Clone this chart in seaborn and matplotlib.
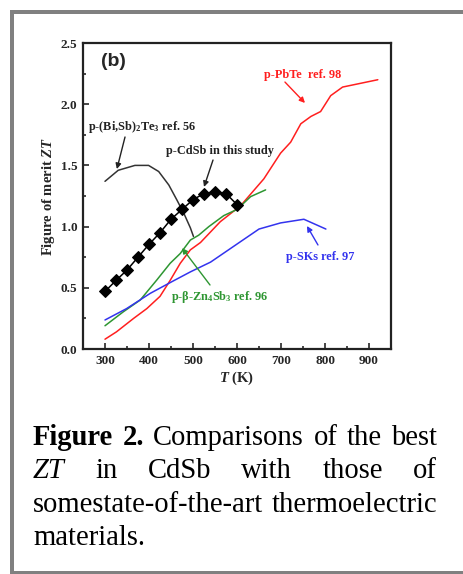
import matplotlib
matplotlib.use("Agg")
import matplotlib.pyplot as plt
import seaborn as sns
import pandas as pd
from matplotlib.ticker import MultipleLocator
from matplotlib.patches import Rectangle

# ZT vs temperature
cdsb_T = [300, 325, 350, 375, 400, 425, 450, 475, 500, 525, 550, 575, 600]
cdsb_zt = [0.47, 0.56, 0.645, 0.75, 0.855, 0.95, 1.06, 1.14, 1.22, 1.27, 1.285, 1.27, 1.18]

bisbte_T = [300, 330, 368, 399, 422, 445, 463, 479, 494, 501]
bisbte_zt = [1.37, 1.46, 1.50, 1.50, 1.45, 1.34, 1.22, 1.11, 0.99, 0.92]

pbte_T = [300, 326, 365, 395, 425, 448, 471, 494, 517, 562, 608, 661, 699, 722, 745, 768, 790, 813, 840, 920]
pbte_zt = [0.08, 0.14, 0.25, 0.33, 0.43, 0.56, 0.70, 0.81, 0.87, 1.04, 1.17, 1.39, 1.60, 1.69, 1.84, 1.90, 1.94, 2.07, 2.14, 2.20]

zn4sb3_T = [300, 342, 380, 418, 448, 471, 494, 513, 536, 570, 600, 631, 665]
zn4sb3_zt = [0.19, 0.305, 0.40, 0.565, 0.70, 0.78, 0.89, 0.93, 1.0, 1.09, 1.14, 1.245, 1.30]

sks_T = [300, 349, 403, 452, 494, 540, 608, 650, 699, 752, 802]
sks_zt = [0.237, 0.33, 0.455, 0.55, 0.63, 0.71, 0.877, 0.98, 1.03, 1.06, 0.98]

RED = "#ff1f1f"
GREEN = "#2e9632"
BLUE = "#3333ee"
GRAY = "#808080"

sns.set_style("ticks")
plt.rcParams["font.family"] = ["Liberation Serif", "DejaVu Serif"]
plt.rcParams["mathtext.fontset"] = "custom"
plt.rcParams["mathtext.rm"] = "Liberation Serif:bold"
plt.rcParams["mathtext.it"] = "Liberation Serif:bold:italic"
plt.rcParams["mathtext.bf"] = "Liberation Serif:bold"
plt.rcParams["mathtext.default"] = "regular"

W, H = 464, 574
fig = plt.figure(figsize=(W / 100, H / 100), dpi=100)
ax = fig.add_axes([83 / W, 1 - 349 / H, 308 / W, 306 / H])

sns.lineplot(x=bisbte_T, y=bisbte_zt, ax=ax, color="#333333", lw=1.1, sort=False)
sns.lineplot(x=pbte_T, y=pbte_zt, ax=ax, color=RED, lw=1.1, sort=False)
sns.lineplot(x=zn4sb3_T, y=zn4sb3_zt, ax=ax, color=GREEN, lw=1.1, sort=False)
sns.lineplot(x=sks_T, y=sks_zt, ax=ax, color=BLUE, lw=1.1, sort=False)
sns.lineplot(x=cdsb_T, y=cdsb_zt, ax=ax, color="black", lw=1.1, marker="D",
             markersize=6.5, markeredgecolor="black", sort=False)

ax.set_xlim(250, 950)
ax.set_ylim(0, 2.5)
ax.xaxis.set_major_locator(MultipleLocator(100))
ax.xaxis.set_minor_locator(MultipleLocator(50))
ax.yaxis.set_major_locator(MultipleLocator(0.5))
ax.yaxis.set_minor_locator(MultipleLocator(0.25))
ax.set_xticks(range(300, 1000, 100))
ax.yaxis.set_major_formatter(matplotlib.ticker.FormatStrFormatter("%.1f"))
ax.tick_params(which="both", direction="in", top=False, right=False, width=1.2)
ax.tick_params(which="major", length=4, pad=4, labelsize=9.5)
ax.tick_params(which="minor", length=2.5)
for lab in ax.get_xticklabels() + ax.get_yticklabels():
    lab.set_fontweight("bold")
for sp in ax.spines.values():
    sp.set_visible(True)
    sp.set_linewidth(1.6)
    sp.set_color("#222222")

ax.set_xlabel(r"$\mathit{T}$ (K)", fontsize=10.5, fontweight="bold", labelpad=2)
ax.set_ylabel(r"Figure of merit $\mathit{ZT}$", fontsize=10.5, fontweight="bold", labelpad=3)

ax.text(320, 2.345, "(b)", fontsize=14, fontweight="bold", family="Liberation Sans",
        ha="center", va="center")

def note(label, xy, xytext, arrow_from, color):
    ax.text(xytext[0], xytext[1], label, color=color, fontsize=8.8, fontweight="bold",
            ha="center", va="center")
    ax.annotate("", xy=xy, xytext=arrow_from,
                arrowprops=dict(arrowstyle="-|>", color=color, lw=1.0, mutation_scale=8,
                                shrinkA=0, shrinkB=0))

note(r"p-(Bi,Sb)$_2$Te$_3$ ref. 56", (327, 1.47), (384, 1.814), (345.5, 1.732), "#222222")
note("p-CdSb in this study", (525, 1.324), (561, 1.618), (545.5, 1.544), "#222222")
note("p-PbTe  ref. 98", (754.5, 2.01), (750, 2.239), (709, 2.181), RED)
note("p-SKs ref. 97", (759, 1.005), (788.7, 0.752), (784, 0.85), BLUE)
note(r"p-β-Zn$_4$Sb$_3$ ref. 96", (475, 0.825), (561, 0.425), (538.6, 0.523), GREEN)

# grey frame around the figure
for x0, y0, w, h in [(10, 10, 4, H - 10), (10, 10, W - 10, 4), (10, H - 3, W - 10, 3)]:
    fig.patches.append(Rectangle((x0 / W, 1 - (y0 + h) / H), w / W, h / H,
                                 transform=fig.transFigure, color=GRAY, lw=0))

# justified caption
CAP_SIZE = 20.6
LEFT, RIGHT = 33, 437
caption = [
    ([("Figure", "bold", "normal"), ("2.", "bold", "normal"), ("Comparisons", "normal", "normal"),
      ("of", "normal", "normal"), ("the", "normal", "normal"), ("best", "normal", "normal")], 445, True),
    ([("ZT", "normal", "italic"), ("in", "normal", "normal"), ("CdSb", "normal", "normal"),
      ("with", "normal", "normal"), ("those", "normal", "normal"), ("of", "normal", "normal")], 478, True),
    ([("somestate-of-the-art", "normal", "normal"), ("thermoelectric", "normal", "normal")], 512, True),
    ([("materials.", "normal", "normal")], 545, False),
]
renderer = fig.canvas.get_renderer()
for words, base, justify in caption:
    texts = [fig.text(0, 1 - base / H, w, fontsize=CAP_SIZE, fontweight=wt, style=st,
                      va="baseline", ha="left", color="black") for w, wt, st in words]
    widths = [t.get_window_extent(renderer).width for t in texts]
    if justify and len(texts) > 1:
        gap = (RIGHT - LEFT - sum(widths)) / (len(texts) - 1)
    else:
        gap = CAP_SIZE * 100 / 72 * 0.25
    x = LEFT
    for t, wd in zip(texts, widths):
        t.set_x(x / W)
        x += wd + gap

fig.savefig("out.png", dpi=100)
